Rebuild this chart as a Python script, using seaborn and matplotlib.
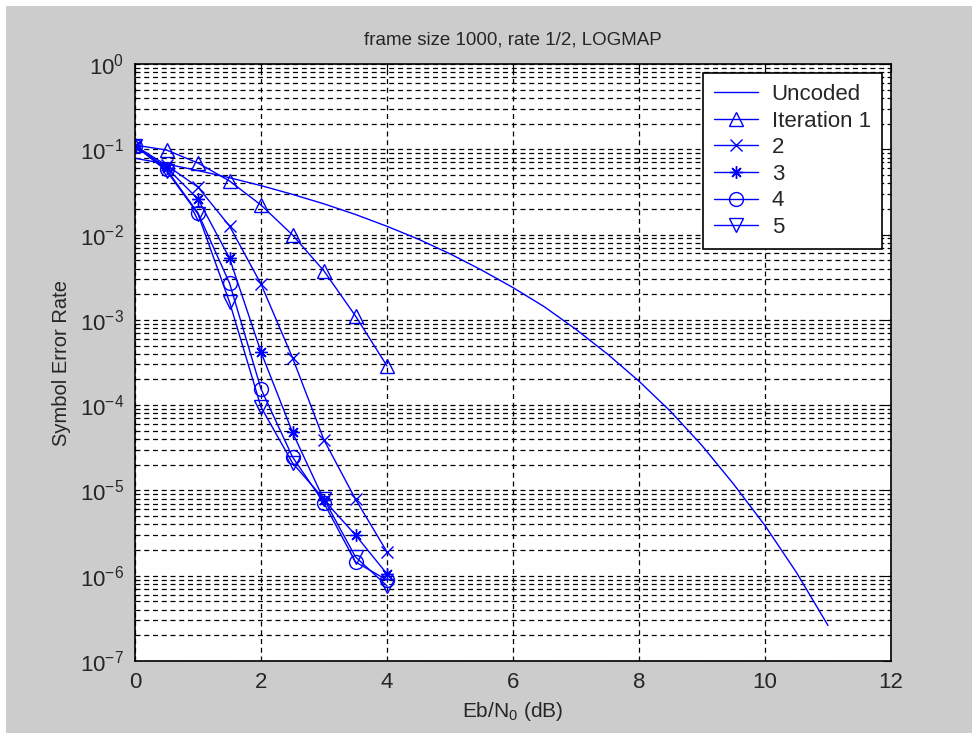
import matplotlib
matplotlib.use("Agg")
import matplotlib.pyplot as plt
import seaborn as sns
from matplotlib.patches import Rectangle
from matplotlib.ticker import LogLocator, MultipleLocator, NullFormatter

# values
ebn0_uncoded = [0, 0.5, 1, 1.5, 2, 2.5, 3, 3.5, 4, 4.5, 5, 5.5,
                6, 6.5, 7, 7.5, 8, 8.5, 9, 9.5, 10, 10.5, 11]
ser_uncoded = [0.0786, 0.0671, 0.0563, 0.0464, 0.0375, 0.0296, 0.0229, 0.0172,
               0.0125, 0.00882, 0.00595, 0.00384, 0.00239, 0.00142, 7.73e-4,
               3.97e-4, 1.91e-4, 8.46e-5, 3.36e-5, 1.19e-5, 3.87e-6, 1.09e-6, 2.61e-7]

ebn0_coded = [0, 0.5, 1, 1.5, 2, 2.5, 3, 3.5, 4]
ser_iter1 = [0.112, 0.098, 0.069, 0.0425, 0.0222, 0.0099, 0.00374, 0.00111, 2.88e-4]
ser_iter2 = [0.11, 0.065, 0.036, 0.0126, 0.00263, 3.6e-4, 3.9e-5, 7.9e-6, 1.9e-6]
ser_iter3 = [0.11, 0.061, 0.0261, 0.0053, 4.2e-4, 4.8e-5, 7.7e-6, 3.0e-6, 1.05e-6]
ser_iter4 = [0.11, 0.058, 0.0179, 0.0027, 1.55e-4, 2.47e-5, 7.1e-6, 1.45e-6, 8.9e-7]
ser_iter5 = [0.11, 0.056, 0.0174, 0.00162, 9.5e-5, 2.1e-5, 7.9e-6, 1.66e-6, 7.6e-7]

labels = ["Uncoded", "Iteration 1", "2", "3", "4", "5"]
markers = [None, "^", "x", (8, 2, 0), "o", "v"]

sns.set_style("white")
plt.rcParams["font.family"] = ["Liberation Sans", "DejaVu Sans"]
plt.rcParams["mathtext.fontset"] = "custom"
plt.rcParams["mathtext.rm"] = "Liberation Sans"
plt.rcParams["mathtext.it"] = "Liberation Sans:italic"
plt.rcParams["mathtext.bf"] = "Liberation Sans:bold"

fig = plt.figure(figsize=(9.72, 7.33), dpi=100)
fig.patch.set_facecolor("white")
fig.patches.append(Rectangle((6 / 972, 0), 1, 1 - 6 / 733, transform=fig.transFigure,
                             facecolor="#cccccc", edgecolor="none", zorder=-10))
ax = fig.add_axes([135 / 972, 1 - 661 / 733, 756 / 972, 597 / 733])
ax.set_facecolor("white")

blue = "#0000ff"
sns.lineplot(x=ebn0_uncoded, y=ser_uncoded, ax=ax, color=blue, lw=1.0,
             label=labels[0], sort=False, estimator=None)
coded = [ser_iter1, ser_iter2, ser_iter3, ser_iter4, ser_iter5]
for ser, lab, mk in zip(coded, labels[1:], markers[1:]):
    open_mk = mk in ("^", "o", "v")
    sns.lineplot(x=ebn0_coded, y=ser, ax=ax, color=blue, lw=1.0, label=lab,
                 marker=mk, markersize=10 if open_mk else 9,
                 markerfacecolor="none" if open_mk else blue,
                 markeredgecolor=blue, markeredgewidth=1.0,
                 sort=False, estimator=None)

ax.set_yscale("log")
ax.set_xlim(0, 12)
ax.set_ylim(1e-7, 1)
ax.xaxis.set_major_locator(MultipleLocator(2))
ax.yaxis.set_major_locator(LogLocator(base=10, numticks=20))
ax.yaxis.set_minor_locator(LogLocator(base=10, subs=range(2, 10), numticks=100))
ax.yaxis.set_minor_formatter(NullFormatter())

grid_kw = dict(color="black", linestyle=(0, (4, 3)), linewidth=0.9)
ax.grid(True, which="major", axis="both", **grid_kw)
ax.grid(True, which="minor", axis="y", **grid_kw)
ax.set_axisbelow(True)

for s in ax.spines.values():
    s.set_visible(True)
    s.set_color("black")
    s.set_linewidth(1.2)
ax.tick_params(which="both", direction="in", top=True, right=True, color="black")
ax.tick_params(which="major", length=6, labelsize=16, pad=8)
ax.tick_params(which="minor", length=3)

ax.set_title("frame size 1000, rate 1/2, LOGMAP", fontsize=13.5, pad=14)
ax.set_xlabel("Eb/N$_0$ (dB)", fontsize=15, labelpad=5)
ax.set_ylabel("Symbol Error Rate", fontsize=14.5, labelpad=6)

leg = ax.legend(loc="upper right", bbox_to_anchor=(0.988, 0.985), borderaxespad=0,
                fontsize=16, frameon=True, fancybox=False, framealpha=1,
                edgecolor="black", handlelength=2.0, labelspacing=0.25,
                handletextpad=0.6, borderpad=0.5)
leg.get_frame().set_linewidth(1.2)

fig.savefig("out.png", dpi=100, facecolor=fig.get_facecolor())
